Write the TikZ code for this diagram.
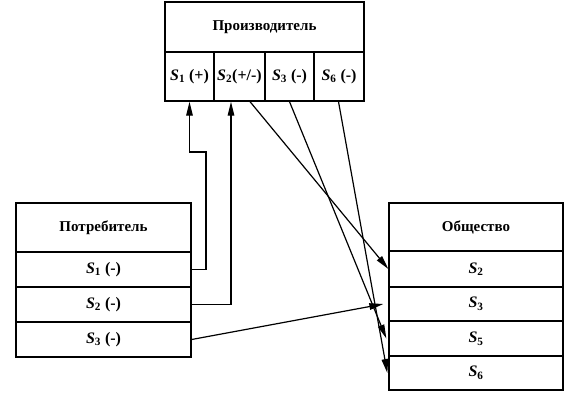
\documentclass[tikz,border=0pt]{standalone}
\usepackage{fontspec}
\setmainfont{Liberation Serif}
\usetikzlibrary{arrows.meta}
\newcommand\Sn[1]{\textit{S}\textsubscript{#1}}
\begin{document}
\begin{tikzpicture}[x=1pt,y=-1pt,font=\fontsize{15}{17}\selectfont\bfseries,
 box/.style={draw,line width=1.3pt,inner sep=0pt,minimum height=#1},
 cell/.style={box=#1,font=\fontsize{16}{18}\selectfont\bfseries},
 arr/.style={line width=1.2pt,-{Triangle[length=14pt,width=6.5pt]}}]
\useasboundingbox(0,0)rectangle(571,397);
% Производитель
\node[box=50pt,minimum width=199pt](prod)at(264.5,27){Производитель};
\foreach\n/\x/\w/\t in{p1/189.5/49/{\Sn1 (+)},p2/239.5/51/{\Sn2(+/-)},p3/289.5/49/{\Sn3 (-)},p4/339/50/{\Sn6 (-)}}{\node[cell=49pt,minimum width=\w pt](\n)at(\x,76.5){\t};}
% Потребитель
\node[box=49pt,minimum width=175pt](cons)at(103.5,227.5){Потребитель};
\foreach\n/\y/\t in{c1/269.5/{\Sn1 (-)},c2/304.5/{\Sn2 (-)},c3/339.5/{\Sn3 (-)}}{\node[cell=35pt,minimum width=175pt](\n)at(103.5,\y){\t};}
% Общество
\node[box=48pt,minimum width=174pt](soc)at(476,227){Общество};
\foreach\n/\y/\h/\t in{s2/269/36/{\Sn2},s3/304/34/{\Sn3},s5/338.5/35/{\Sn5},s6/373/34/{\Sn6}}{\node[cell=\h pt,minimum width=174pt](\n)at(476,\y){\t};}
% связи
\coordinate(k1)at(206,152);
\draw[arr](c1.east)-|(k1)-|(p1.south);
\draw[arr](c2.east)-|([xshift=-8.5pt]p2.south);
\draw[arr]([xshift=10.5pt]p2.south)--(s2.west);
\draw[arr](p3.south)--([xshift=-2pt]s5.west);
\draw[arr]([xshift=-0.5pt]p4.south)--([xshift=-1pt]s6.west);
\draw[arr](c3.east)--([xshift=-5pt]s3.west);
\end{tikzpicture}
\end{document}
